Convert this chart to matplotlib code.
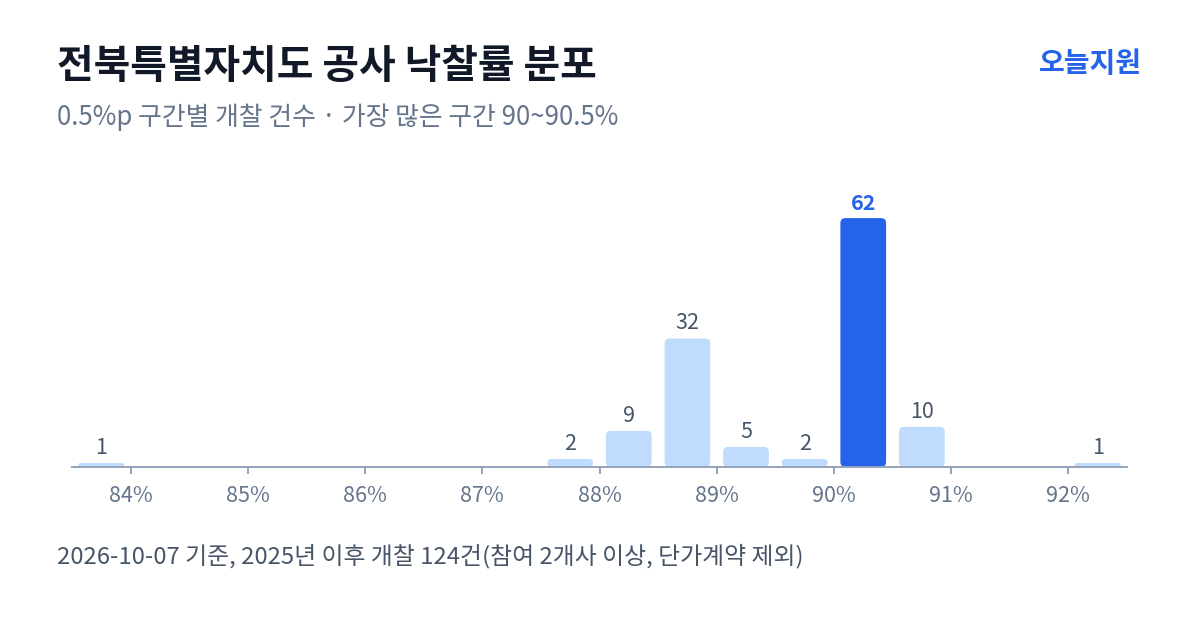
import matplotlib
matplotlib.use("Agg")
import matplotlib.pyplot as plt
from matplotlib.patches import FancyBboxPatch

plt.rcParams["font.family"] = ["Noto Sans CJK KR", "DejaVu Sans"]

# data: 0.5%p bins (bin start), counts
bin_starts = [83.5, 87.5, 88.0, 88.5, 89.0, 89.5, 90.0, 90.5, 92.0]
counts = [1, 2, 9, 32, 5, 2, 62, 10, 1]
tick_vals = [84, 85, 86, 87, 88, 89, 90, 91, 92]
tick_labels = [f"{t}%" for t in tick_vals]
peak_start = 90.0

TITLE = "전북특별자치도 공사 낙찰률 분포"
SUBTITLE = "0.5%p 구간별 개찰 건수 · 가장 많은 구간 90~90.5%"
BRAND = "오늘지원"
FOOTER = "2026-10-07 기준, 2025년 이후 개찰 124건(참여 2개사 이상, 단가계약 제외)"

INK = "#111827"
SUB = "#64748b"
BLUE = "#2563eb"
LIGHT = "#bfdbfe"
AXIS = "#94a3b8"
LABEL = "#475569"

W, H = 1200, 630
fig = plt.figure(figsize=(12, 6.3), dpi=100)
ax_l, ax_r, ax_b, ax_t = 72, 1127, 467, 190
ax = fig.add_axes([ax_l / W, (H - ax_b) / H, (ax_r - ax_l) / W, (ax_b - ax_t) / H])
XMIN, XMAX, YMAX = 83.5, 92.5, 69
ax.set_xlim(XMIN, XMAX)
ax.set_ylim(0, YMAX)

px_x = (ax_r - ax_l) / (XMAX - XMIN)   # pixels per x unit
px_y = (ax_b - ax_t) / YMAX            # pixels per y unit
aspect = px_x / px_y

bw = 0.39
r_px = 5.0
for s, c in zip(bin_starts, counts):
    cx = s + 0.25
    color = BLUE if s == peak_start else LIGHT
    h_px = c * px_y
    rr = min(r_px, h_px / 2) / px_x
    p = FancyBboxPatch((cx - bw / 2, 0), bw, c,
                       boxstyle=f"round,pad=0,rounding_size={rr}",
                       mutation_aspect=aspect, fc=color, ec="none", zorder=2)
    ax.add_patch(p)
    if s == peak_start:
        ax.annotate(str(c), (cx, c), xytext=(0, 3), textcoords="offset points",
                    ha="center", va="bottom", fontsize=15.5, fontweight="bold",
                    color=BLUE)
    else:
        ax.annotate(str(c), (cx, c), xytext=(0, 3), textcoords="offset points",
                    ha="center", va="bottom", fontsize=15.5, color=LABEL)

for side in ["top", "right", "left"]:
    ax.spines[side].set_visible(False)
ax.spines["bottom"].set_color(AXIS)
ax.spines["bottom"].set_linewidth(1.4)
ax.spines["bottom"].set_zorder(3)
ax.set_yticks([])
ax.set_xticks(tick_vals)
ax.set_xticklabels(tick_labels)
ax.tick_params(axis="x", length=5, width=1.4, color=AXIS, labelcolor=SUB,
               labelsize=15.5, pad=8)

fig.text(57 / W, 1 - 67 / H, TITLE, fontsize=28.7, fontweight="bold", color=INK,
         ha="left", va="center")
fig.text(57 / W, 1 - 117 / H, SUBTITLE, fontsize=18.6, color=SUB,
         ha="left", va="center")
fig.text(1142 / W, 1 - 64 / H, BRAND, fontsize=20.2, fontweight="bold", color=BLUE,
         ha="right", va="center")
fig.text(57 / W, 1 - 556 / H, FOOTER, fontsize=17.2, color=LABEL,
         ha="left", va="center")

fig.savefig("out.png", dpi=100, facecolor="white")
